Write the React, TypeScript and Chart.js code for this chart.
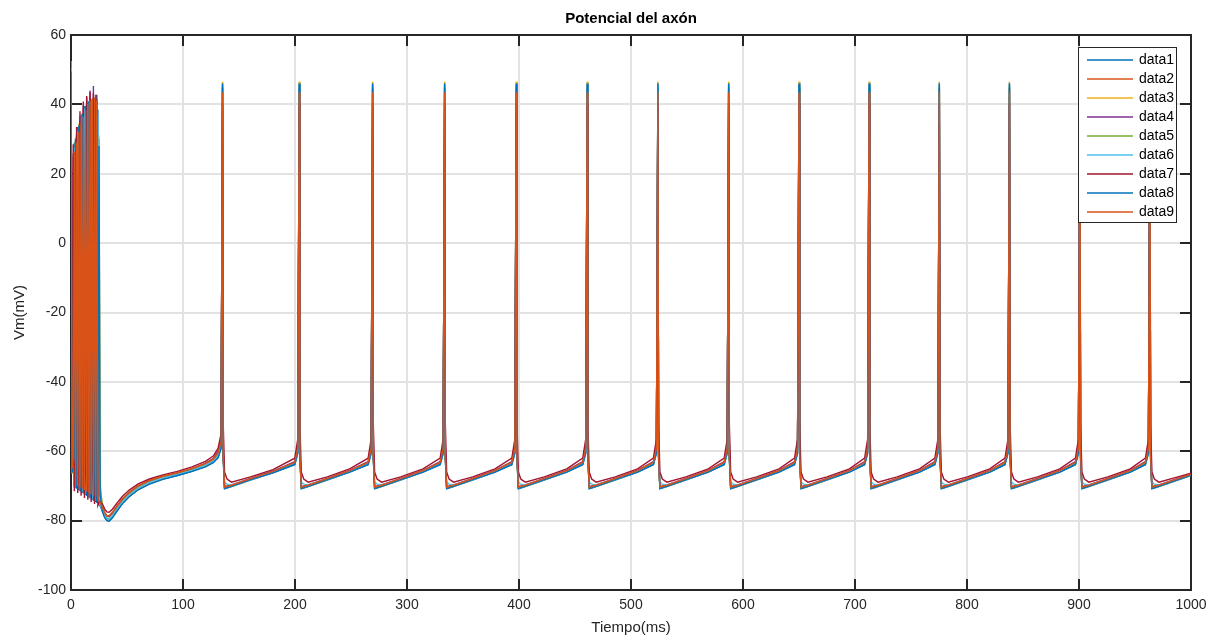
import { useEffect, useRef } from "react";
import { Chart, registerables } from "chart.js";

Chart.register(...registerables);

const FUENTE = '"Liberation Sans", Arial, Helvetica, sans-serif';
const COLOR_EJE = "#262626";

const titulo = "Potencial del axón";
const etiquetaX = "Tiempo(ms)";
const etiquetaY = "Vm(mV)";

const nombresSeries = ["data1", "data2", "data3", "data4", "data5", "data6", "data7", "data8", "data9"];
const coloresSeries = ["#0072BD", "#D95319", "#EDB120", "#7E2F8E", "#77AC30", "#4DBEEE", "#A2142F", "#0072BD", "#D95319"];

const ticksX = [0, 100, 200, 300, 400, 500, 600, 700, 800, 900, 1000];
const ticksY = [-100, -80, -60, -40, -20, 0, 20, 40, 60];

// Sample times (ms), shared by every trace
const tiempo = [
  0, 1, 2, 3, 4, 5, 6, 7, 8, 9, 10, 11, 12, 13, 14, 15, 16, 17, 18, 19, 20, 21, 22, 23, 24, 25, 26,
  28, 30, 32, 34, 37, 41, 46, 52, 60, 70, 82, 95, 108, 120, 127, 131.3, 134.0,
  135.3, 135.9, 137.1, 139.3, 143.3, 160.3, 180.3, 199.8, 202.5,
  203.8, 204.4, 205.6, 207.8, 211.8, 228.8, 248.8, 265.3, 268.0,
  269.3, 269.9, 271.1, 273.3, 277.3, 294.3, 314.3, 329.6, 332.3,
  333.6, 334.2, 335.4, 337.6, 341.6, 358.6, 378.6, 393.6, 396.3,
  397.6, 398.2, 399.4, 401.6, 405.6, 422.6, 442.6, 456.9, 459.6,
  460.9, 461.5, 462.7, 464.9, 468.9, 485.9, 505.9, 520.0, 522.7,
  524.0, 524.6, 525.8, 528.0, 532.0, 549.0, 569.0, 583.2, 585.9,
  587.2, 587.8, 589.0, 591.2, 595.2, 612.2, 632.2, 646.0, 648.7,
  650.0, 650.6, 651.8, 654.0, 658.0, 675.0, 695.0, 708.6, 711.3,
  712.6, 713.2, 714.4, 716.6, 720.6, 737.6, 757.6, 771.3, 774.0,
  775.3, 775.9, 777.1, 779.3, 783.3, 800.3, 820.3, 833.9, 836.6,
  837.9, 838.5, 839.7, 841.9, 845.9, 862.9, 882.9, 896.8, 899.5,
  900.8, 901.4, 902.6, 904.8, 908.8, 925.8, 945.8, 959.3, 962.0,
  963.3, 963.9, 965.1, 967.3, 971.3, 988.3, 1000,
];

// Membrane potential (mV) of each trace at the times above
const data1 = [
  50, -66, -61.5, 29, -70.5, -62.5, 33.5, -71.2, -63, 37, -72, -63.5, 39.5, -72.6, -64, 40.5, -73.3, -64.5, 41, -74, -65, 39.5, -74.6, -65.5, 38.5, -75.3, -75.8,
  -77.2, -78.9, -79.9, -80.1, -79.1, -77.2, -75.0, -73.0, -71.0, -69.4, -68.0, -67.0, -65.8, -64.4, -63.2, -61.8, -59.0,
  46.2, -62, -70.8, -70.6, -70.2, -68.3, -66.2, -63.9, -60.6,
  46.2, -62, -70.8, -70.6, -70.2, -68.3, -66.0, -63.9, -60.6,
  46.2, -62, -70.8, -70.6, -70.2, -68.3, -66.0, -63.9, -60.6,
  46.2, -62, -70.8, -70.6, -70.2, -68.3, -66.0, -63.9, -60.6,
  46.2, -62, -70.8, -70.6, -70.2, -68.3, -66.0, -63.9, -60.6,
  46.2, -62, -70.8, -70.6, -70.2, -68.3, -66.0, -63.9, -60.6,
  46.2, -62, -70.8, -70.6, -70.2, -68.3, -66.0, -63.9, -60.6,
  46.2, -62, -70.8, -70.6, -70.2, -68.3, -66.0, -63.9, -60.6,
  46.2, -62, -70.8, -70.6, -70.2, -68.3, -66.0, -63.9, -60.6,
  46.2, -62, -70.8, -70.6, -70.2, -68.3, -66.0, -63.9, -60.6,
  46.2, -62, -70.8, -70.6, -70.2, -68.3, -66.0, -63.9, -60.6,
  46.2, -62, -70.8, -70.6, -70.2, -68.3, -66.0, -63.9, -60.6,
  46.2, -62, -70.8, -70.6, -70.2, -68.3, -66.0, -63.9, -60.6,
  46.2, -62, -70.8, -70.6, -70.2, -68.3, -67.0,
];
const data2 = [
  48.5, -63, 25, -70, -62.5, 31, -70.6, -63, 35.5, -71.3, -63.5, 39, -72, -64, 41.3, -72.6, -64.5, 42.5, -73.2, -65, 42.2, -73.8, -65.5, 41.5, -74.3, -74.6, -74.9,
  -76.0, -77.6, -78.5, -78.6, -77.6, -75.8, -73.7, -71.8, -69.9, -68.4, -67.2, -66.2, -65.0, -63.5, -62.2, -60.3, -57.0,
  44.5, -61, -70.4, -70.2, -69.9, -68.0, -65.9, -63.3, -59.3,
  44.5, -61, -70.4, -70.2, -69.9, -68.0, -65.7, -63.3, -59.3,
  44.5, -61, -70.4, -70.2, -69.9, -68.0, -65.7, -63.3, -59.3,
  44.5, -61, -70.4, -70.2, -69.9, -68.0, -65.7, -63.3, -59.3,
  44.5, -61, -70.4, -70.2, -69.9, -68.0, -65.7, -63.3, -59.3,
  44.5, -61, -70.4, -70.2, -69.9, -68.0, -65.7, -63.3, -59.3,
  44.5, -61, -70.4, -70.2, -69.9, -68.0, -65.7, -63.3, -59.3,
  44.5, -61, -70.4, -70.2, -69.9, -68.0, -65.7, -63.3, -59.3,
  44.5, -61, -70.4, -70.2, -69.9, -68.0, -65.7, -63.3, -59.3,
  44.5, -61, -70.4, -70.2, -69.9, -68.0, -65.7, -63.3, -59.3,
  44.5, -61, -70.4, -70.2, -69.9, -68.0, -65.7, -63.3, -59.3,
  44.5, -61, -70.4, -70.2, -69.9, -68.0, -65.7, -63.3, -59.3,
  44.5, -61, -70.4, -70.2, -69.9, -68.0, -65.7, -63.3, -59.3,
  44.5, -61, -70.4, -70.2, -69.9, -68.0, -66.7,
];
const data3 = [
  52.5, -66.5, -64, -61.5, 30.5, -70.6, -62.4, 34.5, -71.3, -62.9, 37.5, -72, -63.4, 39.5, -72.7, -63.9, 40.8, -73.4, -64.4, 41.2, -74.1, -64.9, 40, -74.7, -65.4, 31, -71,
  -76.9, -78.7, -79.6, -79.8, -78.8, -76.9, -74.7, -72.7, -70.7, -69.1, -67.8, -66.8, -65.6, -64.2, -62.9, -61.2, -58.3,
  46.6, -61.5, -70.6, -70.4, -70.1, -68.2, -66.1, -63.6, -59.9,
  46.6, -61.5, -70.6, -70.4, -70.1, -68.2, -65.9, -63.6, -59.9,
  46.6, -61.5, -70.6, -70.4, -70.1, -68.2, -65.9, -63.6, -59.9,
  46.6, -61.5, -70.6, -70.4, -70.1, -68.2, -65.9, -63.6, -59.9,
  46.6, -61.5, -70.6, -70.4, -70.1, -68.2, -65.9, -63.6, -59.9,
  46.6, -61.5, -70.6, -70.4, -70.1, -68.2, -65.9, -63.6, -59.9,
  46.6, -61.5, -70.6, -70.4, -70.1, -68.2, -65.9, -63.6, -59.9,
  46.6, -61.5, -70.6, -70.4, -70.1, -68.2, -65.9, -63.6, -59.9,
  46.6, -61.5, -70.6, -70.4, -70.1, -68.2, -65.9, -63.6, -59.9,
  46.6, -61.5, -70.6, -70.4, -70.1, -68.2, -65.9, -63.6, -59.9,
  46.6, -61.5, -70.6, -70.4, -70.1, -68.2, -65.9, -63.6, -59.9,
  46.6, -61.5, -70.6, -70.4, -70.1, -68.2, -65.9, -63.6, -59.9,
  46.6, -61.5, -70.6, -70.4, -70.1, -68.2, -65.9, -63.6, -59.9,
  46.6, -61.5, -70.6, -70.4, -70.1, -68.2, -66.9,
];
const data4 = [
  48, -63.5, 26, -70.5, -62.8, 31.5, -71, -63.2, 36.5, -71.7, -63.8, 39.8, -72.4, -64.3, 42, -73, -64.8, 44, -73.6, -65.3, 45.3, -74.2, -65.8, 41, -74.6, -74.9, -75.2,
  -76.3, -77.9, -78.8, -78.9, -77.9, -76.0, -73.9, -72.0, -70.1, -68.6, -67.3, -66.3, -65.1, -63.5, -62.1, -60.0, -56.5,
  44.8, -60.5, -70.1, -70.0, -69.7, -67.8, -65.7, -63.0, -58.7,
  44.8, -60.5, -70.1, -70.0, -69.7, -67.8, -65.5, -63.0, -58.7,
  44.8, -60.5, -70.1, -70.0, -69.7, -67.8, -65.5, -63.0, -58.7,
  44.8, -60.5, -70.1, -70.0, -69.7, -67.8, -65.5, -63.0, -58.7,
  44.8, -60.5, -70.1, -70.0, -69.7, -67.8, -65.5, -63.0, -58.7,
  44.8, -60.5, -70.1, -70.0, -69.7, -67.8, -65.5, -63.0, -58.7,
  44.8, -60.5, -70.1, -70.0, -69.7, -67.8, -65.5, -63.0, -58.7,
  44.8, -60.5, -70.1, -70.0, -69.7, -67.8, -65.5, -63.0, -58.7,
  44.8, -60.5, -70.1, -70.0, -69.7, -67.8, -65.5, -63.0, -58.7,
  44.8, -60.5, -70.1, -70.0, -69.7, -67.8, -65.5, -63.0, -58.7,
  44.8, -60.5, -70.1, -70.0, -69.7, -67.8, -65.5, -63.0, -58.7,
  44.8, -60.5, -70.1, -70.0, -69.7, -67.8, -65.5, -63.0, -58.7,
  44.8, -60.5, -70.1, -70.0, -69.7, -67.8, -65.5, -63.0, -58.7,
  44.8, -60.5, -70.1, -70.0, -69.7, -67.8, -66.5,
];
const data5 = [
  49, -66, -63.6, -61.2, 29.5, -70.3, -62.2, 33.8, -71, -62.7, 37, -71.7, -63.2, 39.2, -72.4, -63.7, 40.6, -73.1, -64.2, 41.5, -73.8, -64.7, 40.5, -74.4, -65.2, 30, -69.5,
  -75.5, -78.2, -79.3, -79.5, -78.5, -76.6, -74.4, -72.4, -70.4, -68.9, -67.6, -66.6, -65.4, -64.0, -62.7, -61.0, -58.0,
  45.0, -61, -70.5, -70.3, -70.0, -68.1, -66.0, -63.5, -59.6,
  45.0, -61, -70.5, -70.3, -70.0, -68.1, -65.8, -63.5, -59.6,
  45.0, -61, -70.5, -70.3, -70.0, -68.1, -65.8, -63.5, -59.6,
  45.0, -61, -70.5, -70.3, -70.0, -68.1, -65.8, -63.5, -59.6,
  45.0, -61, -70.5, -70.3, -70.0, -68.1, -65.8, -63.5, -59.6,
  45.0, -61, -70.5, -70.3, -70.0, -68.1, -65.8, -63.5, -59.6,
  45.0, -61, -70.5, -70.3, -70.0, -68.1, -65.8, -63.5, -59.6,
  45.0, -61, -70.5, -70.3, -70.0, -68.1, -65.8, -63.5, -59.6,
  45.0, -61, -70.5, -70.3, -70.0, -68.1, -65.8, -63.5, -59.6,
  45.0, -61, -70.5, -70.3, -70.0, -68.1, -65.8, -63.5, -59.6,
  45.0, -61, -70.5, -70.3, -70.0, -68.1, -65.8, -63.5, -59.6,
  45.0, -61, -70.5, -70.3, -70.0, -68.1, -65.8, -63.5, -59.6,
  45.0, -61, -70.5, -70.3, -70.0, -68.1, -65.8, -63.5, -59.6,
  45.0, -61, -70.5, -70.3, -70.0, -68.1, -66.8,
];
const data6 = [
  50.5, -65.5, -61.8, 27.5, -70.2, -62.6, 32.5, -70.9, -63.1, 36.2, -71.6, -63.6, 38.8, -72.3, -64.1, 40.2, -73, -64.6, 40.8, -73.7, -65.1, 40, -74.3, -65.6, 37, -75, -75.4,
  -76.8, -78.5, -79.5, -79.6, -78.6, -76.7, -74.5, -72.6, -70.6, -69.0, -67.7, -66.7, -65.5, -64.1, -62.9, -61.4, -58.6,
  45.6, -58, -68.9, -69.5, -69.7, -68.1, -66.1, -63.7, -60.2,
  45.6, -58, -68.9, -69.5, -69.7, -68.1, -65.9, -63.7, -60.2,
  45.6, -58, -68.9, -69.5, -69.7, -68.1, -65.9, -63.7, -60.2,
  45.6, -58, -68.9, -69.5, -69.7, -68.1, -65.9, -63.7, -60.2,
  45.6, -58, -68.9, -69.5, -69.7, -68.1, -65.9, -63.7, -60.2,
  45.6, -58, -68.9, -69.5, -69.7, -68.1, -65.9, -63.7, -60.2,
  45.6, -58, -68.9, -69.5, -69.7, -68.1, -65.9, -63.7, -60.2,
  45.6, -58, -68.9, -69.5, -69.7, -68.1, -65.9, -63.7, -60.2,
  45.6, -58, -68.9, -69.5, -69.7, -68.1, -65.9, -63.7, -60.2,
  45.6, -58, -68.9, -69.5, -69.7, -68.1, -65.9, -63.7, -60.2,
  45.6, -58, -68.9, -69.5, -69.7, -68.1, -65.9, -63.7, -60.2,
  45.6, -58, -68.9, -69.5, -69.7, -68.1, -65.9, -63.7, -60.2,
  45.6, -58, -68.9, -69.5, -69.7, -68.1, -65.9, -63.7, -60.2,
  45.6, -58, -68.9, -69.5, -69.7, -68.1, -66.8,
];
const data7 = [
  47, -64, 28.5, -71.5, -63, 33.5, -72, -63.5, 38, -72.8, -64, 40.8, -73.5, -64.5, 42.4, -74, -65, 43.6, -74.6, -65.5, 43.2, -75.2, -66, 42.8, -75.6, -74.8, -74.5,
  -75.2, -76.6, -77.5, -77.6, -76.7, -75.0, -73.0, -71.2, -69.4, -68.0, -66.8, -65.8, -64.5, -62.9, -61.4, -59.2, -55.0,
  40.3, -52, -66.0, -68.0, -68.9, -67.4, -65.3, -62.0, -56.5,
  40.3, -52, -66.0, -68.0, -68.9, -67.4, -65.1, -62.0, -56.5,
  40.3, -52, -66.0, -68.0, -68.9, -67.4, -65.1, -62.0, -56.5,
  40.3, -52, -66.0, -68.0, -68.9, -67.4, -65.1, -62.0, -56.5,
  40.3, -52, -66.0, -68.0, -68.9, -67.4, -65.1, -62.0, -56.5,
  40.3, -52, -66.0, -68.0, -68.9, -67.4, -65.1, -62.0, -56.5,
  40.3, -52, -66.0, -68.0, -68.9, -67.4, -65.1, -62.0, -56.5,
  40.3, -52, -66.0, -68.0, -68.9, -67.4, -65.1, -62.0, -56.5,
  40.3, -52, -66.0, -68.0, -68.9, -67.4, -65.1, -62.0, -56.5,
  40.3, -52, -66.0, -68.0, -68.9, -67.4, -65.1, -62.0, -56.5,
  40.3, -52, -66.0, -68.0, -68.9, -67.4, -65.1, -62.0, -56.5,
  40.3, -52, -66.0, -68.0, -68.9, -67.4, -65.1, -62.0, -56.5,
  40.3, -52, -66.0, -68.0, -68.9, -67.4, -65.1, -62.0, -56.5,
  40.3, -52, -66.0, -68.0, -68.9, -67.4, -66.3,
];
const data8 = [
  49.5, -66.2, -63.8, -61.4, 30, -70.8, -62.6, 34, -71.5, -63.1, 37.2, -72.2, -63.6, 39.6, -72.9, -64.1, 41, -73.6, -64.6, 41.5, -74.3, -65.1, 42.8, -74.9, -65.6, 28, -72.5,
  -77.4, -79.1, -80.0, -80.2, -79.2, -77.3, -75.1, -73.1, -71.1, -69.5, -68.1, -67.0, -65.8, -64.5, -63.3, -61.9, -59.2,
  46.0, -62, -70.7, -70.5, -70.1, -68.2, -66.2, -63.8, -60.4,
  46.0, -62, -70.7, -70.5, -70.1, -68.2, -66.0, -63.8, -60.4,
  46.0, -62, -70.7, -70.5, -70.1, -68.2, -66.0, -63.8, -60.4,
  46.0, -62, -70.7, -70.5, -70.1, -68.2, -66.0, -63.8, -60.4,
  46.0, -62, -70.7, -70.5, -70.1, -68.2, -66.0, -63.8, -60.4,
  46.0, -62, -70.7, -70.5, -70.1, -68.2, -66.0, -63.8, -60.4,
  46.0, -62, -70.7, -70.5, -70.1, -68.2, -66.0, -63.8, -60.4,
  46.0, -62, -70.7, -70.5, -70.1, -68.2, -66.0, -63.8, -60.4,
  46.0, -62, -70.7, -70.5, -70.1, -68.2, -66.0, -63.8, -60.4,
  46.0, -62, -70.7, -70.5, -70.1, -68.2, -66.0, -63.8, -60.4,
  46.0, -62, -70.7, -70.5, -70.1, -68.2, -66.0, -63.8, -60.4,
  46.0, -62, -70.7, -70.5, -70.1, -68.2, -66.0, -63.8, -60.4,
  46.0, -62, -70.7, -70.5, -70.1, -68.2, -66.0, -63.8, -60.4,
  46.0, -62, -70.7, -70.5, -70.1, -68.2, -66.9,
];
const data9 = [
  48, -65, -61, 26.5, -69.6, 29, -70, 32, -70.4, 34.5, -70.8, 36.5, -71.2, 38.3, -71.6, 39.8, -72, 41, -72.4, 41.8, -72.8, 42, -73.2, 41.2, -73.8, -74.3, -74.8,
  -76.1, -77.7, -78.6, -78.7, -77.7, -75.9, -73.8, -71.9, -70.0, -68.5, -67.2, -66.2, -65.0, -63.6, -62.3, -60.4, -57.2,
  43.4, -61, -70.3, -70.1, -69.8, -67.9, -65.8, -63.2, -59.1,
  43.4, -61, -70.3, -70.1, -69.8, -67.9, -65.6, -63.2, -59.1,
  43.4, -61, -70.3, -70.1, -69.8, -67.9, -65.6, -63.2, -59.1,
  43.4, -61, -70.3, -70.1, -69.8, -67.9, -65.6, -63.2, -59.1,
  43.4, -61, -70.3, -70.1, -69.8, -67.9, -65.6, -63.2, -59.1,
  43.4, -61, -70.3, -70.1, -69.8, -67.9, -65.6, -63.2, -59.1,
  43.4, -61, -70.3, -70.1, -69.8, -67.9, -65.6, -63.2, -59.1,
  43.4, -61, -70.3, -70.1, -69.8, -67.9, -65.6, -63.2, -59.1,
  43.4, -61, -70.3, -70.1, -69.8, -67.9, -65.6, -63.2, -59.1,
  43.4, -61, -70.3, -70.1, -69.8, -67.9, -65.6, -63.2, -59.1,
  43.4, -61, -70.3, -70.1, -69.8, -67.9, -65.6, -63.2, -59.1,
  43.4, -61, -70.3, -70.1, -69.8, -67.9, -65.6, -63.2, -59.1,
  43.4, -61, -70.3, -70.1, -69.8, -67.9, -65.6, -63.2, -59.1,
  43.4, -61, -70.3, -70.1, -69.8, -67.9, -66.6,
];

const series = [data1, data2, data3, data4, data5, data6, data7, data8, data9];

// Axes box with inward tick marks on all four sides, drawn beneath the traces
const marcoEjes = {
  id: "marcoEjes",
  beforeDatasetsDraw(chart: any) {
    const { ctx, chartArea, scales } = chart;
    const { left, right, top, bottom } = chartArea;
    const largo = 11;
    ctx.save();
    ctx.strokeStyle = COLOR_EJE;
    ctx.lineWidth = 2;
    ctx.beginPath();
    for (const v of ticksX) {
      const x = Math.round(scales.x.getPixelForValue(v));
      ctx.moveTo(x, bottom);
      ctx.lineTo(x, bottom - largo);
      ctx.moveTo(x, top);
      ctx.lineTo(x, top + largo);
    }
    for (const v of ticksY) {
      const y = Math.round(scales.y.getPixelForValue(v));
      ctx.moveTo(left, y);
      ctx.lineTo(left + largo, y);
      ctx.moveTo(right, y);
      ctx.lineTo(right - largo, y);
    }
    ctx.stroke();
    ctx.strokeRect(left, top, right - left, bottom - top);
    ctx.restore();
  },
};

// Title centred over the plot area
const tituloEjes = {
  id: "tituloEjes",
  afterDraw(chart: any) {
    const { ctx, chartArea } = chart;
    ctx.save();
    ctx.font = `bold 15px ${FUENTE}`;
    ctx.fillStyle = "#000000";
    ctx.textAlign = "center";
    ctx.textBaseline = "middle";
    ctx.fillText(titulo, (chartArea.left + chartArea.right) / 2, 19);
    ctx.restore();
  },
};

// Boxed legend in the upper-right corner of the axes
const leyenda = {
  id: "leyenda",
  afterDraw(chart: any) {
    const { ctx, chartArea } = chart;
    const ancho = 99;
    const x0 = chartArea.right - 14 - ancho;
    const y0 = chartArea.top + 12;
    const paso = 19;
    const alto = 176;
    ctx.save();
    ctx.fillStyle = "#ffffff";
    ctx.fillRect(x0, y0, ancho, alto);
    ctx.strokeStyle = COLOR_EJE;
    ctx.lineWidth = 1;
    ctx.strokeRect(x0 + 0.5, y0 + 0.5, ancho - 1, alto - 1);
    ctx.font = `14px ${FUENTE}`;
    ctx.textAlign = "left";
    ctx.textBaseline = "middle";
    nombresSeries.forEach((nombre, i) => {
      const y = y0 + 13 + i * paso;
      ctx.strokeStyle = coloresSeries[i];
      ctx.lineWidth = 1.5;
      ctx.beginPath();
      ctx.moveTo(x0 + 9, y);
      ctx.lineTo(x0 + 55, y);
      ctx.stroke();
      ctx.fillStyle = "#000000";
      ctx.fillText(nombre, x0 + 61, y + 0.5);
    });
    ctx.restore();
  },
};

export default function App() {
  const canvasRef = useRef<HTMLCanvasElement | null>(null);

  useEffect(() => {
    const canvas = canvasRef.current;
    if (!canvas) return;

    const datasets = series.map((valores, i) => ({
      label: nombresSeries[i],
      data: tiempo.map((t, j) => ({ x: t, y: valores[j] })),
      borderColor: coloresSeries[i],
      backgroundColor: coloresSeries[i],
      borderWidth: 1.4,
      pointRadius: 0,
      fill: false,
      tension: 0,
      order: series.length - 1 - i,
    }));

    const chart = new Chart(canvas, {
      type: "line",
      data: { datasets },
      options: {
        animation: false,
        responsive: false,
        events: [],
        layout: { padding: { top: 35, right: 26, bottom: 0, left: 0 } },
        plugins: {
          legend: { display: false },
          title: { display: false },
          tooltip: { enabled: false },
        },
        scales: {
          x: {
            type: "linear",
            min: 0,
            max: 1000,
            afterBuildTicks: (s: any) => {
              s.ticks = ticksX.map((v) => ({ value: v }));
            },
            afterFit: (s: any) => {
              s.height = 51;
            },
            grid: { color: "#e2e2e2", lineWidth: 2, drawTicks: false },
            border: { display: false },
            ticks: {
              autoSkip: false,
              maxRotation: 0,
              padding: 7,
              color: COLOR_EJE,
              font: { family: FUENTE, size: 14 },
              callback: (v: any) => String(v),
            },
            title: {
              display: true,
              text: etiquetaX,
              color: COLOR_EJE,
              font: { family: FUENTE, size: 15 },
              padding: { top: 0, bottom: 4 },
            },
          },
          y: {
            type: "linear",
            min: -100,
            max: 60,
            afterBuildTicks: (s: any) => {
              s.ticks = ticksY.map((v) => ({ value: v }));
            },
            afterFit: (s: any) => {
              s.width = 71;
            },
            grid: { color: "#e2e2e2", lineWidth: 2, drawTicks: false },
            border: { display: false },
            ticks: {
              autoSkip: false,
              padding: 5,
              color: COLOR_EJE,
              font: { family: FUENTE, size: 14 },
              callback: (v: any) => String(v),
            },
            title: {
              display: true,
              text: etiquetaY,
              color: COLOR_EJE,
              font: { family: FUENTE, size: 15 },
              padding: { top: 11, bottom: 0 },
            },
          },
        },
      },
      plugins: [marcoEjes, tituloEjes, leyenda],
    });

    return () => chart.destroy();
  }, []);

  return (
    <div style={{ position: "fixed", left: 0, top: 0, width: 1217, height: 641, background: "#ffffff" }}>
      <canvas ref={canvasRef} width={1217} height={641} style={{ display: "block" }} />
    </div>
  );
}
